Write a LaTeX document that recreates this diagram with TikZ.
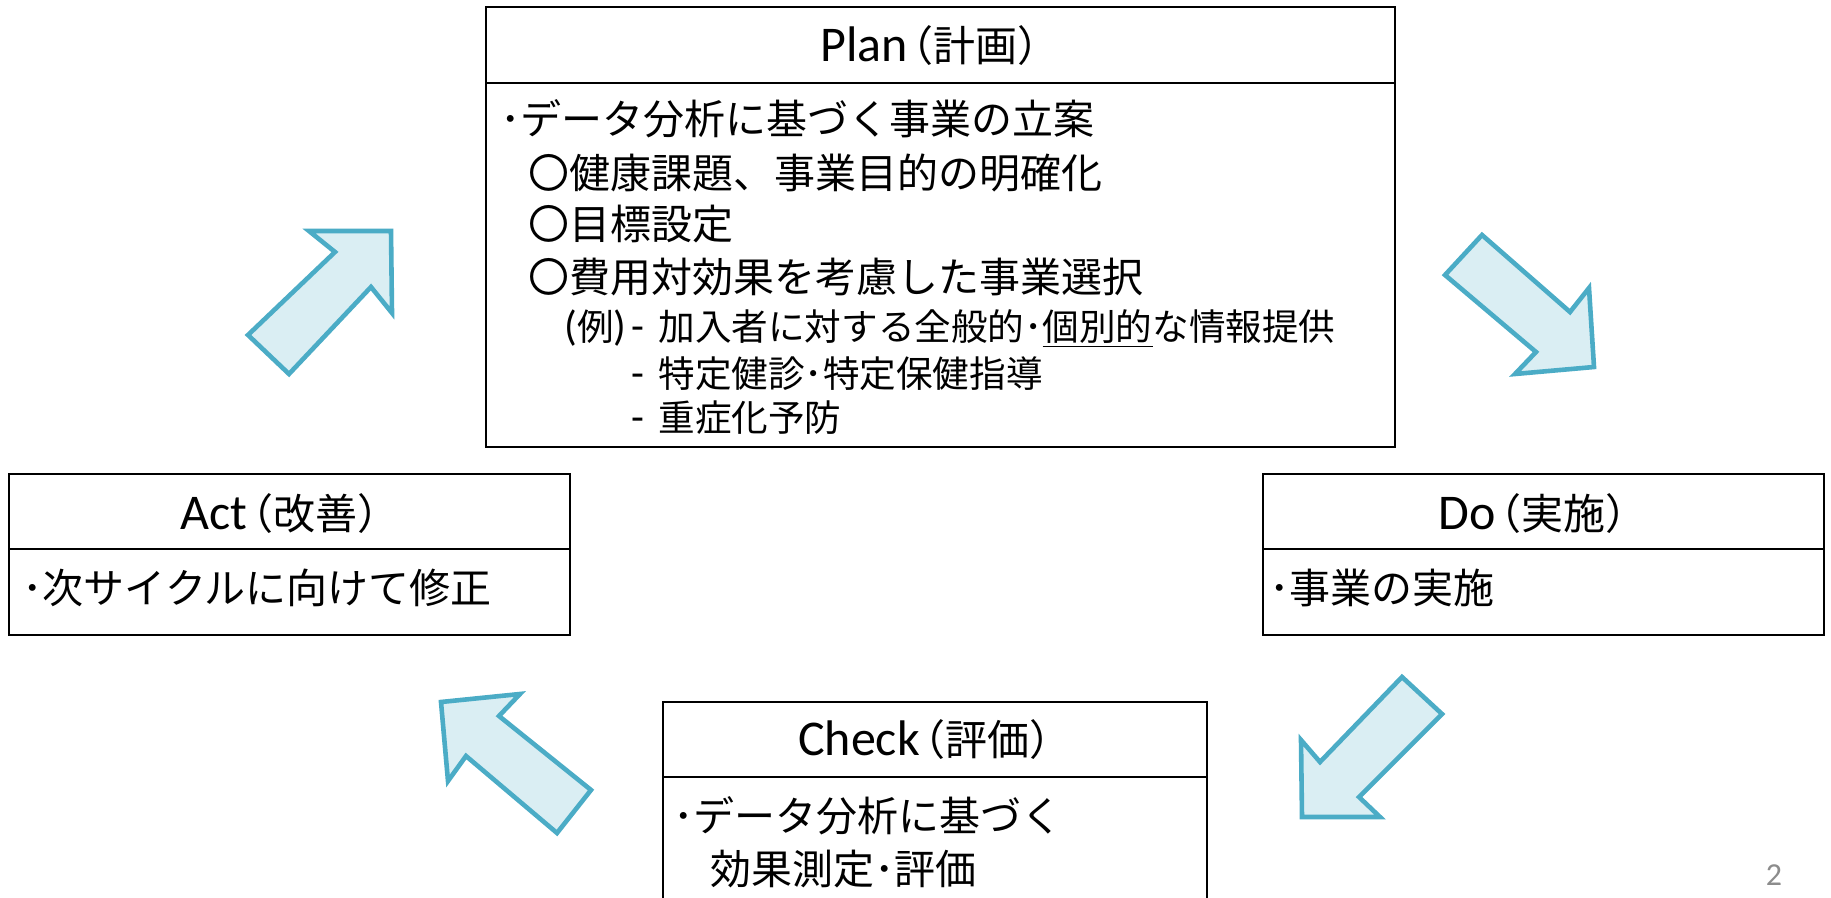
\documentclass[tikz,border=0pt]{standalone}
\usepackage{fontspec}
\setmainfont{Carlito}
\newfontfamily\jp{Noto Sans CJK JP}
\definecolor{arrfill}{HTML}{DAEEF3}
\definecolor{arrline}{HTML}{4BACC6}
\definecolor{pnum}{HTML}{8C8C8C}
\newcommand{\jpt}[1]{\hspace{-8pt}{\jp\fontsize{21}{24}\selectfont #1}}
\tikzset{
  boxline/.style={draw=black, line width=1.2pt},
  ttl/.style={font=\fontsize{25}{28}\selectfont, anchor=base, inner sep=0pt},
  body/.style={font=\jp\fontsize{20.5}{24}\selectfont, anchor=base west, inner sep=0pt},
  ex/.style={font=\jp\fontsize{18.3}{22}\selectfont, anchor=base west, inner sep=0pt},
  exl/.style={font=\fontsize{21}{24}\selectfont, anchor=base west, inner sep=0pt},
  pdca/.style={fill=arrfill, draw=arrline, line width=2.3pt, line join=miter}
}
\begin{document}
\begin{tikzpicture}[x=0.5pt,y=-0.5pt]
\useasboundingbox (0,0) rectangle (1831,898);
\fill[white] (0,0) rectangle (1831,898);

% Plan box
\draw[boxline] (486,7) rectangle (1395,447);
\draw[boxline] (486,83) -- (1395,83);
\node[ttl] (plant) at (940,62) {Plan\jpt{（計画）}};
\node[body] (p1) at (500,135) {･データ分析に基づく事業の立案};
\node[body] (p2) at (528,189) {〇健康課題、事業目的の明確化};
\node[body] (p3) at (528,240) {〇目標設定};
\node[body] (p4) at (528,293) {〇費用対効果を考慮した事業選択};
\node[exl] (e0) at (564,341) {({\jp\fontsize{18.3}{22}\selectfont 例})};
\node[exl] (d1) at (631,341) {-};
\node[ex] (e1) at (658,341) {加入者に対する全般的･\underline{個別的}な情報提供};
\node[exl] (d2) at (631,388) {-};
\node[ex] (e2) at (658,388) {特定健診･特定保健指導};
\node[exl] (d3) at (631,432) {-};
\node[ex] (e3) at (658,432) {重症化予防};

% Act box
\draw[boxline] (9,474) rectangle (570,635);
\draw[boxline] (9,549) -- (570,549);
\node[ttl] (actt) at (290,529) {Act\jpt{（改善）}};
\node[body] (a1) at (22,603) {･次サイクルに向けて修正};

% Do box
\draw[boxline] (1263,474) rectangle (1824,635);
\draw[boxline] (1263,549) -- (1824,549);
\node[ttl] (dot) at (1543,529) {Do\jpt{（実施）}};
\node[body] (o1) at (1269,603) {･事業の実施};

% Check box
\draw[boxline] (663,910) -- (663,702) -- (1207,702) -- (1207,910);
\draw[boxline] (663,777) -- (1207,777);
\node[ttl] (chkt) at (935,755) {Check\jpt{（評価）}};
\node[body] (c1) at (673,831) {･データ分析に基づく};
\node[body] (c2) at (710,884) {効果測定･評価};

% arrows
\draw[pdca] (391,231) -- (309,231) -- (335,252) -- (248,335) -- (289,374) -- (371,287) -- (392,313) -- cycle;
\draw[pdca] (1482,235) -- (1570,312) -- (1589,288) -- (1594,367) -- (1515,374) -- (1536,352) -- (1445,275) -- cycle;
\draw[pdca] (1402,677) -- (1442,714) -- (1359,797) -- (1380,817) -- (1302,817) -- (1301,740) -- (1320,762) -- cycle;
\draw[pdca] (520,694) -- (441,702) -- (448,781) -- (466,756) -- (557,833) -- (591,790) -- (499,716) -- cycle;

% page number
\node[font=\fontsize{16}{19}\selectfont, text=pnum, anchor=base, inner sep=0pt] (pg) at (1774,885) {2};
\end{tikzpicture}
\end{document}
